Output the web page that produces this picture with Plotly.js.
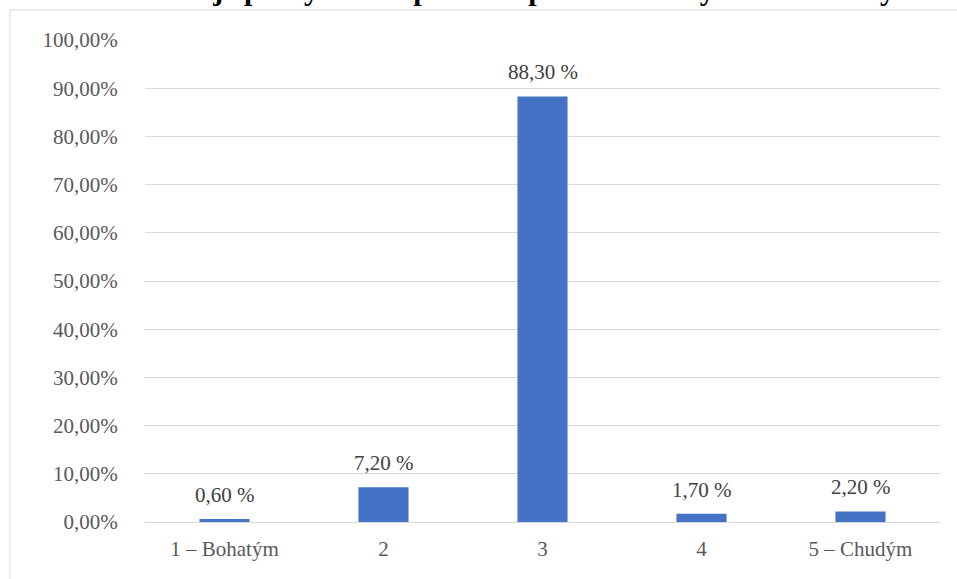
<!DOCTYPE html>
<html>
<head>
<meta charset="utf-8">
<script src="https://cdn.plot.ly/plotly-3.0.1.min.js"></script>
<style>html,body{margin:0;padding:0;background:#fff;}#chart{width:957px;height:579px;}</style>
</head>
<body>
<div id="chart"></div>
<script>
const categories = ["1 – Bohatým", "2", "3", "4", "5 – Chudým"];
const values = [0.6, 7.2, 88.3, 1.7, 2.2];
const valueLabels = ["0,60 %", "7,20 %", "88,30 %", "1,70 %", "2,20 %"];
const yTickVals = [0, 10, 20, 30, 40, 50, 60, 70, 80, 90, 100];
const yTickLabels = ["0,00%", "10,00%", "20,00%", "30,00%", "40,00%", "50,00%", "60,00%", "70,00%", "80,00%", "90,00%", "100,00%"];
const titleText = "Graf 7: Komu je poskytována pomoc v praxi – bohatým nebo chudým";

const trace = {
  type: "bar",
  x: categories,
  y: values,
  marker: {color: "#4472C4"},
  hoverinfo: "none"
};

const labelAnnotations = categories.map((c, i) => ({
  x: i, y: values[i], xref: "x", yref: "y",
  text: valueLabels[i],
  showarrow: false,
  yanchor: "bottom",
  yshift: 10,
  font: {family: "Liberation Serif", size: 21, color: "#404040"}
}));

const layout = {
  width: 957, height: 579,
  margin: {l: 145, r: 17, t: 40, b: 57},
  paper_bgcolor: "#ffffff",
  plot_bgcolor: "#ffffff",
  bargap: 0.685,
  showlegend: false,
  annotations: labelAnnotations.concat([{
    text: "<b>" + titleText + "</b>",
    xref: "paper", yref: "paper",
    x: -0.155, xanchor: "left",
    y: 1.0665, yanchor: "bottom",
    showarrow: false,
    font: {family: "Liberation Serif", size: 30, color: "#000000"}
  }]),
  xaxis: {
    type: "category",
    tickfont: {family: "Liberation Serif", size: 21, color: "#595959"},
    showgrid: false,
    showline: false,
    ticks: "outside",
    ticklen: 8,
    tickcolor: "rgba(0,0,0,0)",
    zeroline: false
  },
  yaxis: {
    range: [0, 100],
    tickmode: "array",
    tickvals: yTickVals,
    ticktext: yTickLabels,
    tickfont: {family: "Liberation Serif", size: 21, color: "#595959"},
    gridcolor: "#d9d9d9",
    gridwidth: 1,
    zeroline: true,
    zerolinecolor: "#d9d9d9",
    zerolinewidth: 1,
    showline: false,
    ticks: "outside",
    ticklen: 22,
    tickcolor: "rgba(0,0,0,0)"
  },
  shapes: [{
    type: "rect", xref: "paper", yref: "paper",
    x0: -0.1698, x1: 1.05, y0: -0.2, y1: 1.0622,
    line: {color: "#d9d9d9", width: 1},
    fillcolor: "rgba(0,0,0,0)",
    layer: "below"
  }]
};

Plotly.newPlot("chart", [trace], layout, {displayModeBar: false, staticPlot: true});
</script>
</body>
</html>
